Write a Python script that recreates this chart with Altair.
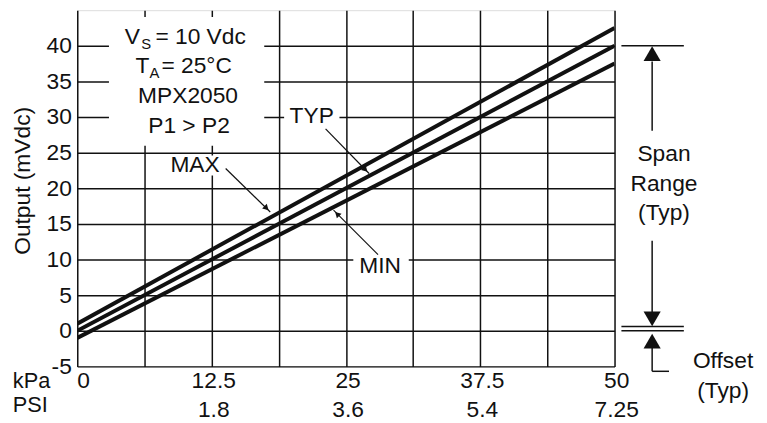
import altair as alt
import pandas as pd

W, H = 543, 360
FONT = "Liberation Sans"
INK = "#111111"
FS = 23
SUB = 15

# ---- data ----
kpa_ends = [0, 50]
max_mv = [1.0, 42.5]
typ_mv = [0.0, 40.0]
min_mv = [-1.0, 37.5]

grid_kpa = [0, 6.25, 12.5, 18.75, 25, 31.25, 37.5, 43.75, 50]
y_ticks = [-5, 0, 5, 10, 15, 20, 25, 30, 35, 40]
kpa_tick_pos = [0, 12.5, 25, 37.5, 50]
kpa_tick_text = ["0", "12.5", "25", "37.5", "50"]
psi_tick_text = ["", "1.8", "3.6", "5.4", "7.25"]

series = []
for name, vals in [("MAX", max_mv), ("TYP", typ_mv), ("MIN", min_mv)]:
    for k, v in zip(kpa_ends, vals):
        series.append({"series": name, "kpa": k, "mv": v})
lines_df = pd.DataFrame(series)

xs = alt.Scale(domain=[0, 50], nice=False, zero=False)
ys = alt.Scale(domain=[-5, 45], nice=False, zero=False)

x_axis = alt.Axis(values=grid_kpa, labels=False, ticks=False, domain=False,
                  grid=True, gridColor=INK, gridWidth=1.5, gridOpacity=1, title=None)
y_axis = alt.Axis(values=y_ticks, ticks=False, domain=False, grid=True,
                  gridColor=INK, gridWidth=1.5, gridOpacity=1,
                  labelFont=FONT, labelFontSize=FS, labelColor=INK, labelPadding=6,
                  labelOverlap=False, labelExpr="toString(datum.value)",
                  title="Output (mVdc)", titleFont=FONT, titleFontSize=FS,
                  titleFontWeight="normal", titleColor=INK,
                  titleX=-55, titleY=172, titleBaseline="middle", titleAngle=270)


def X(f):
    return alt.X(f, scale=xs, axis=x_axis)


def Y(f):
    return alt.Y(f, scale=ys, axis=y_axis)


lines = alt.Chart(lines_df).mark_line(color=INK, strokeWidth=4, clip=True).encode(
    x=X("kpa:Q"), y=Y("mv:Q"), detail="series:N")

# white boxes behind annotation text
boxes_df = pd.DataFrame([
    {"x": 2.95, "x2": 17.4, "y": 44.03, "y2": 25.97},
    {"x": 19.25, "x2": 24.4, "y": 31.7, "y2": 28.6},
    {"x": 8.29, "x2": 13.63, "y": 24.6, "y2": 21.8},
    {"x": 25.69, "x2": 30.85, "y": 11.0, "y2": 7.6},
])
boxes = alt.Chart(boxes_df).mark_rect(color="white").encode(
    x=X("x:Q"), x2="x2:Q", y=Y("y:Q"), y2="y2:Q")

# leader / dimension segments
seg_df = pd.DataFrame([
    # leaders
    {"x": 23.11, "y": 28.33, "x2": 27.16, "y2": 22.08, "w": 1.2},
    {"x": 13.81, "y": 22.78, "x2": 17.96, "y2": 16.67, "w": 1.2},
    {"x": 27.99, "y": 10.69, "x2": 23.85, "y2": 16.94, "w": 1.2},
    # span range
    {"x": 50.64, "y": 40.0, "x2": 56.45, "y2": 40.0, "w": 1.5},
    {"x": 53.5, "y": 37.8, "x2": 53.5, "y2": 28.06, "w": 1.5},
    {"x": 53.5, "y": 12.64, "x2": 53.5, "y2": 1.5, "w": 1.5},
    # offset
    {"x": 50.64, "y": 0.6, "x2": 56.45, "y2": 0.6, "w": 1.5},
    {"x": 50.64, "y": 0.0, "x2": 56.45, "y2": 0.0, "w": 1.5},
    {"x": 53.5, "y": -1.5, "x2": 53.5, "y2": -5.69, "w": 1.5},
    {"x": 53.5, "y": -5.69, "x2": 55.07, "y2": -5.69, "w": 1.5},
])
segs = alt.Chart(seg_df).mark_rule(color=INK).encode(
    x=X("x:Q"), y=Y("y:Q"), x2="x2:Q", y2="y2:Q",
    strokeWidth=alt.StrokeWidth("w:Q", scale=None))

# arrowheads
small_heads_df = pd.DataFrame([
    {"x": 26.75, "y": 22.7, "a": 135},
    {"x": 17.55, "y": 17.3, "a": 134},
    {"x": 24.25, "y": 16.3, "a": 315},
])
small_heads = alt.Chart(small_heads_df).mark_point(shape="triangle", filled=True, size=45,
                                                   color=INK, opacity=1).encode(
    x=X("x:Q"), y=Y("y:Q"), angle=alt.Angle("a:Q", scale=None))

big_heads_df = pd.DataFrame([
    {"x": 53.5, "y": 38.9, "shape": "triangle-up"},
    {"x": 53.5, "y": 1.67, "shape": "triangle-down"},
    {"x": 53.5, "y": -1.45, "shape": "triangle-up"},
])
big_heads = alt.Chart(big_heads_df).mark_point(filled=True, size=300, color=INK, opacity=1).encode(
    x=X("x:Q"), y=Y("y:Q"), shape=alt.Shape("shape:N", scale=None))

# annotation texts
left_txt = pd.DataFrame([
    {"t": "V", "x": 4.42, "y": 41.25, "fs": FS},
    {"t": "S", "x": 5.95, "y": 40.2, "fs": SUB},
    {"t": "= 10 Vdc", "x": 7.27, "y": 41.25, "fs": FS},
    {"t": "T", "x": 5.43, "y": 37.22, "fs": FS},
    {"t": "A", "x": 6.72, "y": 36.2, "fs": SUB},
    {"t": "= 25°C", "x": 7.83, "y": 37.22, "fs": FS},
    {"t": "kPa", "x": -6.0, "y": -7.0, "fs": 22},
    {"t": "PSI", "x": -6.0, "y": -10.45, "fs": 22},
    {"t": kpa_tick_text[0], "x": kpa_tick_pos[0], "y": -7.1, "fs": FS},
])
center_rows = [
    {"t": "MPX2050", "x": 10.31, "y": 32.92, "fs": FS},
    {"t": "P1 > P2", "x": 10.4, "y": 28.75, "fs": FS},
    {"t": "TYP", "x": 21.82, "y": 30.14, "fs": FS},
    {"t": "MAX", "x": 10.96, "y": 23.19, "fs": FS},
    {"t": "MIN", "x": 28.18, "y": 9.03, "fs": FS},
    {"t": "Span", "x": 54.6, "y": 24.86, "fs": FS},
    {"t": "Range", "x": 54.6, "y": 20.56, "fs": FS},
    {"t": "(Typ)", "x": 54.6, "y": 16.53, "fs": FS},
    {"t": "Offset", "x": 60.1, "y": -4.31, "fs": FS},
    {"t": "(Typ)", "x": 60.1, "y": -8.47, "fs": FS},
]
for p, kt, pt in zip(kpa_tick_pos[1:], kpa_tick_text[1:], psi_tick_text[1:]):
    center_rows.append({"t": kt, "x": p + 0.2, "y": -7.1, "fs": FS})
    center_rows.append({"t": pt, "x": p + 0.2, "y": -11.1, "fs": FS})
center_txt = pd.DataFrame(center_rows)


def text_layer(df, align):
    return alt.Chart(df).mark_text(font=FONT, color=INK, align=align, baseline="middle").encode(
        x=X("x:Q"), y=Y("y:Q"), text="t:N", size=alt.Size("fs:Q", scale=None))


chart = alt.layer(
    lines, boxes, segs, small_heads, big_heads,
    text_layer(left_txt, "left"), text_layer(center_txt, "center"),
).properties(
    width=W, height=H,
    autosize=alt.AutoSizeParams(type="none"),
    padding={"left": 70, "top": 0, "right": 146, "bottom": 54},
).configure_view(stroke=INK, strokeWidth=2).configure_axis(
    labelOverlap=False
).configure(font=FONT, background="white")

chart.save("out.html", embed_options={"renderer": "svg", "actions": False})
